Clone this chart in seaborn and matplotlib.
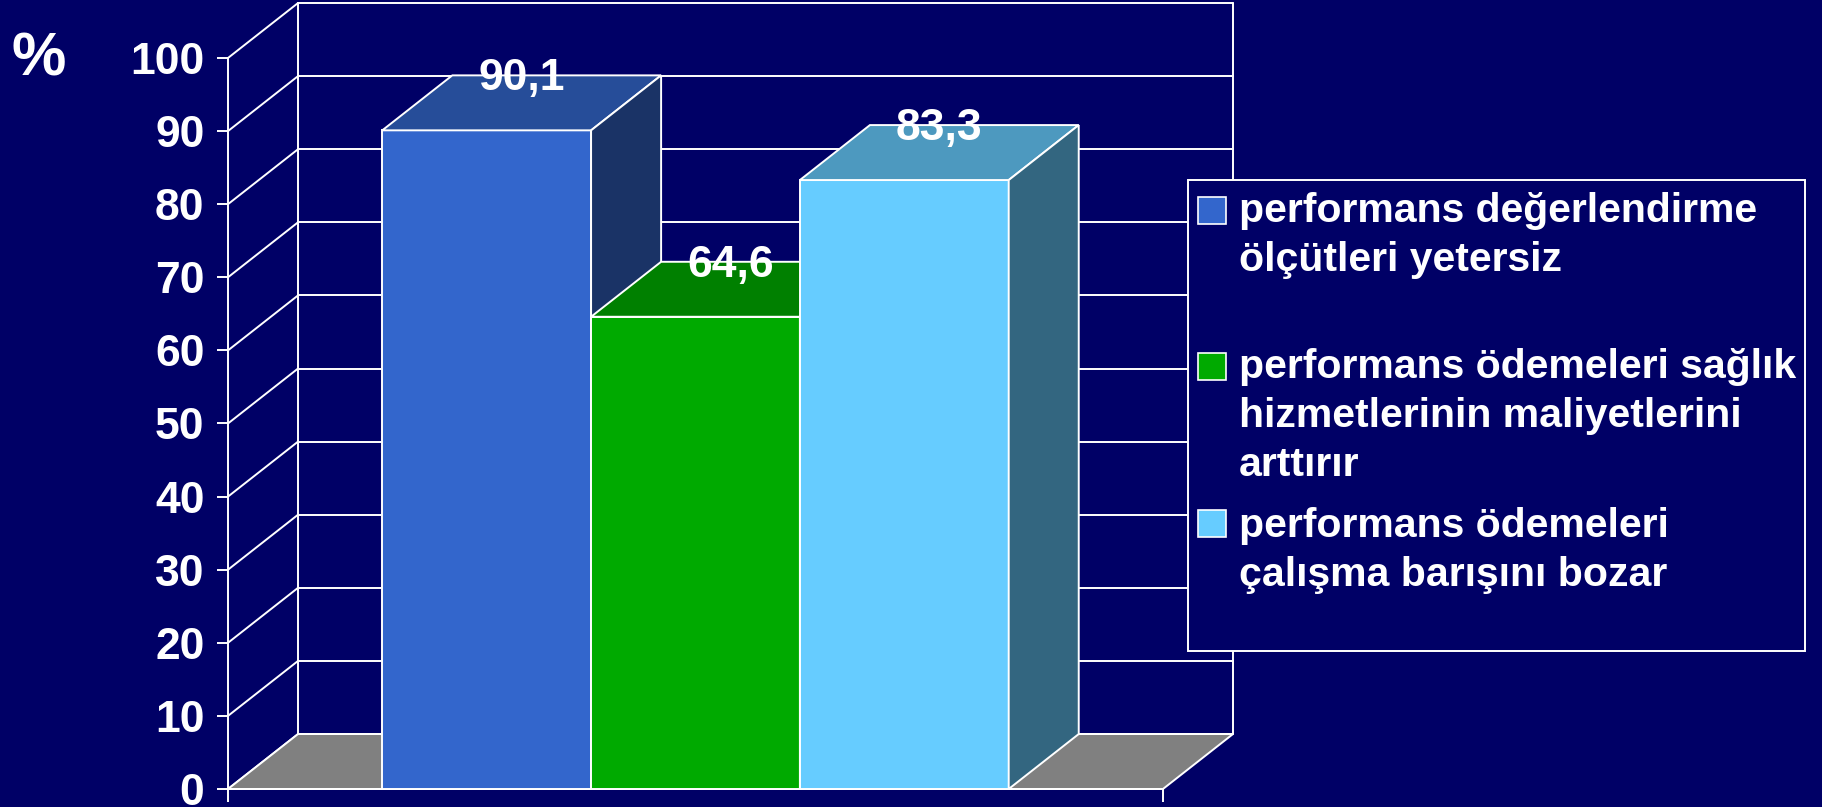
import matplotlib
matplotlib.use("Agg")
import matplotlib.pyplot as plt
from matplotlib.patches import Polygon, Rectangle
from matplotlib.lines import Line2D
import numpy as np
import pandas as pd
import seaborn as sns

# ---- data -------------------------------------------------------------
category = ["grup"]
series = [
    "performans değerlendirme ölçütleri yetersiz",
    "performans ödemeleri sağlık hizmetlerinin maliyetlerini arttırır",
    "performans ödemeleri çalışma barışını bozar",
]
values = [90.1, 64.6, 83.3]
legend_lines = [
    ["performans değerlendirme", "ölçütleri yetersiz"],
    ["performans ödemeleri sağlık", "hizmetlerinin maliyetlerini", "arttırır"],
    ["performans ödemeleri", "çalışma barışını bozar"],
]
yticks = [0, 10, 20, 30, 40, 50, 60, 70, 80, 90, 100]
ytick_labels = [str(t) for t in yticks]

# ---- style ------------------------------------------------------------
NAVY = "#000066"
WHITE = "white"
front_colors = ["#3366CC", "#00AA00", "#66CCFF"]


def shade(hex_color, k):
    r, g, b = matplotlib.colors.to_rgb(hex_color)
    return (r * k, g * k, b * k)


sns.set_theme(style="white", rc={
    "figure.facecolor": NAVY,
    "axes.facecolor": NAVY,
    "savefig.facecolor": NAVY,
})
plt.rcParams["font.family"] = ["Liberation Sans", "DejaVu Sans"]

W, H = 1822, 807
fig = plt.figure(figsize=(W / 100, H / 100), dpi=100)

# axes: front plane x in [-0.5, 0.5], y in [0, 100]; DX/DY give the depth
DX, DY = 0.0749, 7.52
ax_left, ax_right = 228, 1233
ax_top, ax_bottom = 3, 789
ax = fig.add_axes([ax_left / W, (H - ax_bottom) / H,
                   (ax_right - ax_left) / W, (ax_bottom - ax_top) / H])

df = pd.DataFrame({"grup": category * len(series), "ifade": series, "yuzde": values})
sns.barplot(data=df, x="grup", y="yuzde", hue="ifade", hue_order=series,
            palette=front_colors, saturation=1, width=0.67, legend=False,
            edgecolor=WHITE, linewidth=1.4, ax=ax)
bars = sorted(list(ax.patches), key=lambda p: p.get_x())

ax.set_xlim(-0.5, 0.5 + DX)
ax.set_ylim(0, 100 + DY)
ax.set_xlabel("")
ax.set_ylabel("")

LW = 1.4
# back wall and left wall grid
for v in yticks:
    ax.add_line(Line2D([-0.5 + DX, 0.5 + DX], [v + DY, v + DY], color=WHITE,
                       lw=LW, zorder=0.5, clip_on=False))
    ax.add_line(Line2D([-0.5, -0.5 + DX], [v, v + DY], color=WHITE,
                       lw=LW, zorder=0.5, clip_on=False))
for xb in (-0.5 + DX, 0.5 + DX):
    ax.add_line(Line2D([xb, xb], [DY, 100 + DY], color=WHITE, lw=LW,
                       zorder=0.5, clip_on=False))

# floor
ax.add_patch(Polygon([(-0.5, 0), (0.5, 0), (0.5 + DX, DY), (-0.5 + DX, DY)],
                     closed=True, fc="#808080", ec=WHITE, lw=LW, zorder=1,
                     clip_on=False))

# 3-D faces of each bar
for i, (bar, col) in enumerate(zip(bars, front_colors)):
    x0 = bar.get_x()
    x1 = x0 + bar.get_width()
    h = bar.get_height()
    z = 3 + i
    bar.set_zorder(z)
    bar.set_clip_on(False)
    top = Polygon([(x0, h), (x1, h), (x1 + DX, h + DY), (x0 + DX, h + DY)],
                  closed=True, fc=shade(col, 0.75), ec=WHITE, lw=LW, zorder=z,
                  clip_on=False)
    side = Polygon([(x1, 0), (x1, h), (x1 + DX, h + DY), (x1 + DX, DY)],
                   closed=True, fc=shade(col, 0.5), ec=WHITE, lw=LW, zorder=z,
                   clip_on=False)
    ax.add_patch(top)
    ax.add_patch(side)
    label = f"{h:.1f}".replace(".", ",")
    ax.annotate(label, xy=(x0 + bar.get_width() / 2 + DX / 2, h + DY),
                xytext=(0, -10.8), textcoords="offset points",
                ha="center", va="baseline", color=WHITE, fontsize=32,
                fontweight="bold", zorder=20, annotation_clip=False)

# axes, ticks and labels
for s in ("top", "right"):
    ax.spines[s].set_visible(False)
ax.spines["left"].set_bounds(0, 100)
ax.spines["bottom"].set_bounds(-0.5, 0.5)
for s in ("left", "bottom"):
    ax.spines[s].set_color(WHITE)
    ax.spines[s].set_linewidth(LW)
ax.set_yticks(yticks)
ax.set_yticklabels(ytick_labels, fontweight="bold", fontsize=32, color=WHITE)
ax.set_xticks([-0.5, 0.5])
ax.set_xticklabels([])
ax.tick_params(axis="y", left=True, direction="out", length=8, width=LW,
               color=WHITE, pad=9)
ax.tick_params(axis="x", bottom=True, direction="out", length=9.5, width=LW,
               color=WHITE)

# "%" unit mark
fig.text(39 / W, (H - 75) / H, "%", ha="center", va="baseline", color=WHITE,
         fontsize=44, fontweight="bold")

# legend box
lx0, lx1, ly0, ly1 = 1188, 1805, 180, 651
fig.patches.append(Rectangle((lx0 / W, (H - ly1) / H), (lx1 - lx0) / W,
                             (ly1 - ly0) / H, transform=fig.transFigure,
                             fc=NAVY, ec=WHITE, lw=LW, zorder=5))
swatch_tops = [197, 353, 510]
first_baselines = [222, 378, 537]
line_step = 49
for col, top, base, lines in zip(front_colors, swatch_tops, first_baselines,
                                 legend_lines):
    fig.patches.append(Rectangle((1198 / W, (H - top - 27) / H), 28 / W, 27 / H,
                                 transform=fig.transFigure, fc=col, ec=WHITE,
                                 lw=1.2, zorder=6))
    for k, line in enumerate(lines):
        fig.text(1239 / W, (H - base - k * line_step) / H, line, ha="left",
                 va="baseline", color=WHITE, fontsize=29.5, fontweight="bold",
                 zorder=7)

fig.savefig("out.png", dpi=100)
